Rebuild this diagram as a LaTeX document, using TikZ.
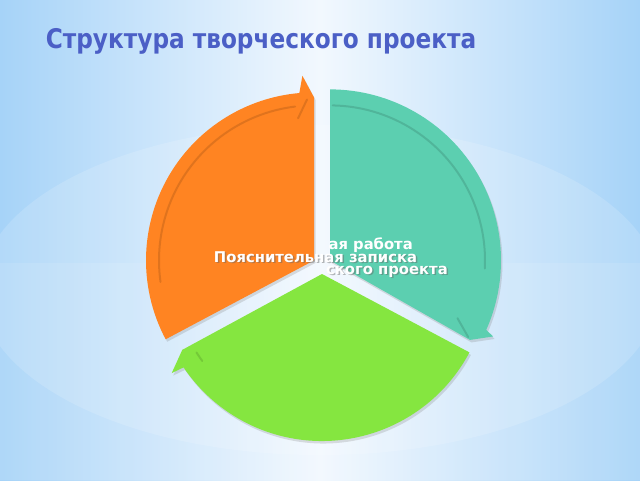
\documentclass[tikz,border=0pt]{standalone}
\usepackage{fontspec}
\setmainfont{DejaVu Sans}
\newfontfamily\titlefont[FakeStretch=0.86]{DejaVu Sans}
\usetikzlibrary{shadows,fadings}

\definecolor{bgblue}{HTML}{A6D3F8}
\definecolor{bgwhite}{HTML}{F2F8FE}
\definecolor{titleblue}{HTML}{4B5FC6}
\definecolor{arroworange}{HTML}{FF8422}
\definecolor{arrowteal}{HTML}{5CCFB0}
\definecolor{arrowgreen}{HTML}{85E640}

\tikzfading[name=ovalfade, left color=transparent!85, middle color=transparent!15, right color=transparent!85]

\def\orangearrow{(0,0) -- (208:168pt) arc[start angle=208, end angle=95, radius=168pt] -- (93.6:185pt) -- (90:163pt) -- cycle}
\def\tealarrow{(0,0) -- (90:171pt) arc[start angle=90, end angle=-24, radius=171pt] -- (-25:180pt) -- (-29.6:161pt) -- cycle}
\def\greenarrow{(0,0) -- (-28:167pt) arc[start angle=-28, end angle=-146, radius=167pt] -- (-146.6:180pt) -- (-151.5:159pt) -- cycle}

\tikzset{
  arrow shadow/.style={drop shadow={shadow xshift=1.5pt, shadow yshift=-2.5pt, opacity=0.25}},
  inner line/.style={line width=2pt, line cap=round, opacity=0.3},
  title text/.style={text=titleblue, font=\titlefont\fontsize{27}{32}\selectfont\bfseries, inner sep=0pt},
  label text/.style={text=white, font=\fontsize{14.8}{17}\selectfont\bfseries, inner sep=0pt},
  label shadow/.style={text=black!60, opacity=0.45, font=\fontsize{14.8}{17}\selectfont\bfseries, inner sep=0pt}
}

\begin{document}
\begin{tikzpicture}[x=1pt, y=1pt]
    \useasboundingbox (0,0) rectangle (640,480);
    \clip (0,0) rectangle (640,480);

    % background
    \fill[left color=bgblue, right color=bgblue, middle color=bgwhite] (0,0) rectangle (640,480);
    \fill[white, opacity=0.1] (0,0) rectangle (640,217);
    \fill[white, path fading=ovalfade] (320,190) ellipse [x radius=340pt, y radius=165pt];

    \node[title text, anchor=base] (title) at (261,431) {Структура творческого проекта};

    \begin{scope}[shift={(314,219.6)}]
      \fill[arroworange, arrow shadow] \orangearrow;
      \draw[inner line, arroworange!60!black] (97:155pt) arc[start angle=97, end angle=188, radius=155pt];
      \draw[inner line, arroworange!60!black] (92.5:161pt) -- (96.4:143pt);
    \end{scope}

    \begin{scope}[shift={(330,219.6)}]
      \fill[arrowteal, arrow shadow] \tealarrow;
      \draw[inner line, arrowteal!60!black] (89:155pt) arc[start angle=89, end angle=-3, radius=155pt];
      \draw[inner line, arrowteal!60!black] (-24.4:140pt) -- (-29:158pt);
    \end{scope}

    \begin{scope}[shift={(322,206)}]
      \fill[arrowgreen, arrow shadow] \greenarrow;
      \draw[inner line, arrowgreen!60!black] (-148:148pt) arc[start angle=-148, end angle=-144, radius=148pt];
    \end{scope}

    % labels
    \node[label shadow, anchor=base east] (defence-shadow) at (449.5,204.5) {ского проекта};
    \node[label text, anchor=base east] (defence) at (448,206) {ского проекта};
    \node[label text, anchor=base east] (work) at (413,230) {ая работа};
    \node[label shadow, anchor=base] (note-shadow) at (317,216.5) {Пояснительная записка};
    \node[label text, anchor=base] (note) at (315.5,218) {Пояснительная записка};
\end{tikzpicture}
\end{document}
